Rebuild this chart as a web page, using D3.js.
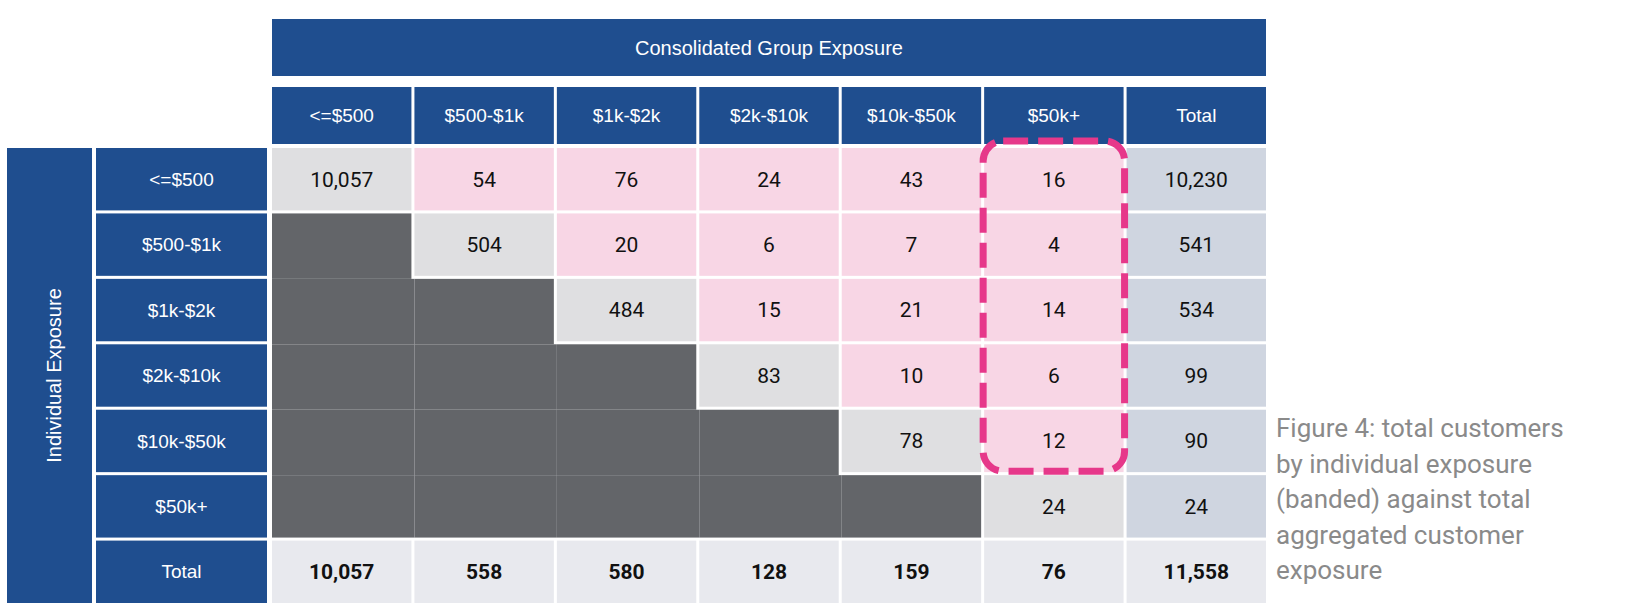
<!DOCTYPE html>
<html><head><meta charset="utf-8">
<script src="https://cdn.jsdelivr.net/npm/d3@7"></script>
<style>body{margin:0;background:#fff}</style></head>
<body><svg id="c" width="1637" height="605"></svg>
<script>
const colLabels = ["<=$500","$500-$1k","$1k-$2k","$2k-$10k","$10k-$50k","$50k+","Total"];
const rowLabels = ["<=$500","$500-$1k","$1k-$2k","$2k-$10k","$10k-$50k","$50k+","Total"];
const values = [
  [10057,54,76,24,43,16,10230],
  [null,504,20,6,7,4,541],
  [null,null,484,15,21,14,534],
  [null,null,null,83,10,6,99],
  [null,null,null,null,78,12,90],
  [null,null,null,null,null,24,24],
  [10057,558,580,128,159,76,11558]
];
const groupTitle = "Consolidated Group Exposure";
const sideTitle = "Individual Exposure";
const highlightCol = 5, highlightRows = [0,4];
const caption = ["Figure 4: total customers","by individual exposure","(banded) against total","aggregated customer","exposure"];

const svg = d3.select("#c");
const BLUE="#1f4e8f", DARK="#636569", DIAG="#dfdfe1", PINK="#f8d6e5", TOTC="#cfd5e0", TOTR="#e8e9ee";
const x = d3.scaleBand().domain(d3.range(7)).range([272,272+142*7]).paddingInner(3/142).paddingOuter(0);
const y = d3.scaleBand().domain(d3.range(7)).range([148,148+65*7]).paddingInner(3/65).paddingOuter(0);
const fmt = d3.format(",");
const bw=x.bandwidth(), bh=y.bandwidth();
const hf="'Liberation Sans',Arial,sans-serif";
// group header
svg.append("rect").attr("x",x(0)).attr("y",19).attr("width",x(6)+bw-x(0)).attr("height",57).attr("fill",BLUE);
svg.append("text").attr("x",(x(0)+x(6)+bw)/2).attr("y",48).attr("dy","0.35em").attr("text-anchor","middle")
  .attr("fill","#fff").attr("font-family",hf).attr("font-size",20).text(groupTitle);
// col headers
colLabels.forEach((c,i)=>{
  svg.append("rect").attr("x",x(i)).attr("y",87).attr("width",bw).attr("height",57).attr("fill",BLUE);
  svg.append("text").attr("x",x(i)+bw/2).attr("y",115).attr("dy","0.35em").attr("text-anchor","middle")
    .attr("fill","#fff").attr("font-family",hf).attr("font-size",19).text(c);
});
// side bar
svg.append("rect").attr("x",7).attr("y",y(0)).attr("width",85).attr("height",y(6)+bh-y(0)).attr("fill",BLUE);
const cy=(y(0)+y(6)+bh)/2;
svg.append("text").attr("transform",`translate(54,${cy}) rotate(-90)`).attr("text-anchor","middle").attr("dy","0.35em")
  .attr("fill","#fff").attr("font-family",hf).attr("font-size",20).text(sideTitle);
// row headers
rowLabels.forEach((r,j)=>{
  svg.append("rect").attr("x",96).attr("y",y(j)).attr("width",171).attr("height",bh).attr("fill",BLUE);
  svg.append("text").attr("x",96+171/2).attr("y",y(j)+bh/2).attr("dy","0.35em").attr("text-anchor","middle")
    .attr("fill","#fff").attr("font-family",hf).attr("font-size",19).text(r);
});
// dark region (merged)
values.forEach((row,j)=>row.forEach((v,i)=>{
  if(v===null){
    const last = row[i+1]!==null; const bottom = j===5;
    svg.append("rect").attr("x",x(i)).attr("y",y(j)).attr("width",bw+(last?0:3)).attr("height",bh+(bottom?0:3)).attr("fill",DARK);
  }
}));
// cells
values.forEach((row,j)=>row.forEach((v,i)=>{
  if(v===null) return;
  let f = j===6?TOTR : i===6?TOTC : i===j?DIAG : PINK;
  svg.append("rect").attr("x",x(i)).attr("y",y(j)).attr("width",bw).attr("height",bh).attr("fill",f);
  svg.append("text").attr("x",x(i)+bw/2).attr("y",y(j)+bh/2).attr("dy","0.35em").attr("text-anchor","middle")
    .attr("fill","#111").attr("font-family","Roboto,'Liberation Sans',sans-serif").attr("font-size",21)
    .attr("font-weight",j===6?"bold":"normal").text(fmt(v));
}));
// highlight
svg.append("rect").attr("x",x(highlightCol)-1).attr("y",y(highlightRows[0])-7)
  .attr("width",bw+2).attr("height",y(highlightRows[1])+bh-y(highlightRows[0])+6)
  .attr("rx",20).attr("fill","none").attr("stroke","#e6388a").attr("stroke-width",7).attr("stroke-dasharray","25,10");
// caption
caption.forEach((t,k)=>{
  svg.append("text").attr("x",1276).attr("y",437+35.5*k).attr("fill","#8a8a8a")
    .attr("font-family","Roboto,'Open Sans',sans-serif").attr("font-size",26).text(t);
});
</script></body></html>
